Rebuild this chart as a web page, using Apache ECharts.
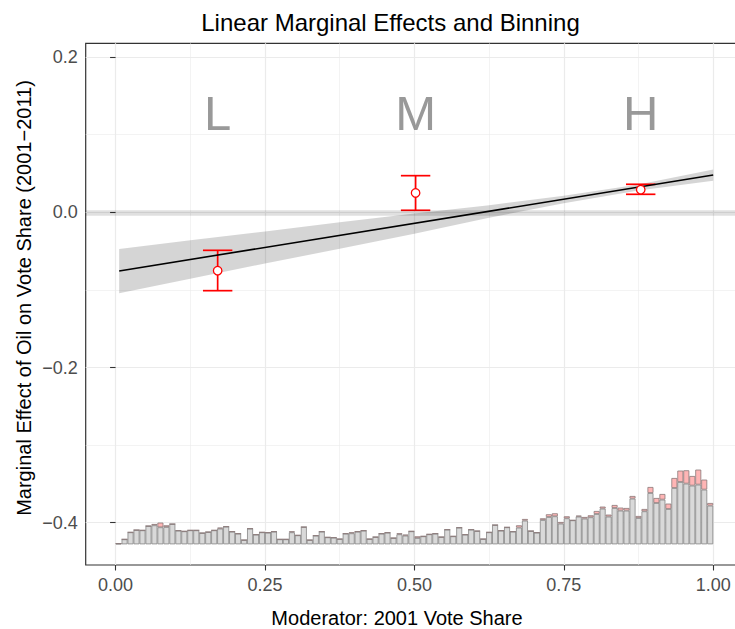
<!DOCTYPE html>
<html>
<head>
<meta charset="utf-8">
<title>Linear Marginal Effects and Binning</title>
<script src="https://cdn.jsdelivr.net/npm/echarts/dist/echarts.min.js"></script>
<style>
  html, body { margin: 0; padding: 0; background: #fff; }
  #chart { width: 735px; height: 629px; }
</style>
</head>
<body>
<div id="chart"></div>
<script>
// values

// linear marginal effect (fitted line)
var lineX = [0.006, 1.0];
var lineY = [-0.0756, 0.0480];

// 95% band around the linear estimate
var bandX = [0.006, 0.125, 0.25, 0.375, 0.5, 0.625, 0.75, 0.875, 1.0];
var bandLower = [-0.1042, -0.0856, -0.0660, -0.0470, -0.0275, -0.0071, 0.0118, 0.0282, 0.0405];
var bandUpper = [-0.0472, -0.0360, -0.0248, -0.0128, -0.0015, 0.0091, 0.0212, 0.0358, 0.0552];

// binning estimates
var binNames = ['L', 'M', 'H'];
var binX = [0.1708, 0.502, 0.8787];
var binEst = [-0.0752, 0.0249, 0.0291];
var binLower = [-0.101, 0.0026, 0.0232];
var binUpper = [-0.049, 0.0472, 0.0361];
var binLabelY = 0.128;

// distribution of the moderator, 100 bins on [0,1]
var histControl = [
  0.7, 5, 12, 14.3, 14, 18.3, 19, 17, 17.3, 20.3,
  13.7, 13, 14, 14, 11.3, 12.3, 14, 15.7, 17.7, 12.7,
  10.7, 4.3, 15.7, 9.7, 12, 11.7, 12.7, 5, 5, 12,
  9, 17.3, 4.3, 8.7, 12.7, 7, 6.7, 5.3, 10.7, 11,
  12.7, 13.7, 5.3, 7.3, 10.7, 11.7, 6.3, 10, 8.7, 13,
  6.3, 8, 10, 10.7, 7.3, 14.7, 8, 16.7, 9.7, 14.7,
  13.3, 5.3, 12, 19.3, 13.7, 17, 12.7, 16.7, 23.7, 13.3,
  11.7, 24.3, 27.3, 28, 20.7, 26, 24, 27.7, 25.7, 27,
  30.3, 35.7, 27.7, 36.3, 33.7, 33.7, 45.7, 26.3, 33, 51.3,
  41.3, 44.7, 35.3, 56.3, 62.3, 60.7, 58.7, 59.7, 54.7, 38.7
];
var histTreated = [
  0, 0, 0, 0, 0, 0, 1.3, 4.7, 1.7, 0,
  0, 0, 0, 0, 0, 0, 0, 1, 0, 0,
  0, 0, 0, 0, 0, 0, 0, 0, 0, 1,
  0, 0, 0, 0, 0, 0, 0, 0, 0, 1,
  0, 0, 0, 0, 0, 0, 0, 1, 1, 0,
  1.7, 0, 0, 0, 0, 0, 0, 0, 0, 0,
  0, 0, 0, 0, 0, 0, 0, 2.3, 1.6, 0,
  0, 1.7, 2.7, 3, 1.6, 2, 0, 1, 1.6, 2,
  3, 2, 2, 3, 3, 2.6, 2.6, 2, 2.3, 6,
  5, 5.6, 5.4, 10, 11.4, 13.3, 9.6, 15, 10, 2.6
];

var xTickLabels = ['0.00', '0.25', '0.50', '0.75', '1.00'];
var yTickLabels = ['\u22120.4', '\u22120.2', '0.0', '0.2'];

var font = 'Liberation Sans, Arial, Helvetica, sans-serif';

var lineData = [];
for (var i = 0; i < lineX.length; i++) {
  lineData.push([lineX[i], lineY[i]]);
}
var bandData = [];
for (var i = 0; i < bandX.length; i++) {
  bandData.push([bandX[i], bandLower[i], bandUpper[i]]);
}
var errData = [];
var pointData = [];
var letterData = [];
for (var i = 0; i < binX.length; i++) {
  errData.push([binX[i], binLower[i], binUpper[i]]);
  pointData.push([binX[i], binEst[i]]);
  letterData.push({ name: binNames[i], value: [binX[i], binLabelY] });
}
var binCats = [];
for (var i = 0; i < histControl.length; i++) {
  binCats.push(String(i));
}

var chart = echarts.init(document.getElementById('chart'), null, { renderer: 'svg' });

var option = {
  animation: false,
  backgroundColor: '#ffffff',
  title: {
    text: 'Linear Marginal Effects and Binning',
    left: 390.5,
    top: 10,
    padding: 0,
    textAlign: 'center',
    textStyle: { fontFamily: font, fontSize: 24, fontWeight: 'normal', color: '#000' }
  },
  graphic: [
    {
      type: 'text', x: 397, y: 618,
      style: { text: 'Moderator: 2001 Vote Share', font: '20px ' + font, fill: '#000',
               textAlign: 'center', textVerticalAlign: 'middle' }
    },
    {
      type: 'text', x: 24, y: 298, rotation: Math.PI / 2,
      style: { text: 'Marginal Effect of Oil on Vote Share (2001\u22122011)', font: '20px ' + font, fill: '#000',
               textAlign: 'center', textVerticalAlign: 'middle' }
    }
  ],
  grid: [
    // panel border
    { left: 85.7, width: 657.4, top: 43.3, bottom: 64, outerBoundsMode: 'none', containLabel: false,
      show: true, borderColor: '#333333', borderWidth: 1.2, backgroundColor: 'transparent' },
    // x breaks: 0..1
    { left: 115.6, width: 597.6, top: 43.3, bottom: 64, outerBoundsMode: 'none', containLabel: false },
    // y breaks: -0.4..0.2, also holds the estimates
    { left: 85.7, width: 657.4, top: 57.1, bottom: 106.3, outerBoundsMode: 'none', containLabel: false },
    // histogram
    { left: 115.6, width: 597.6, top: 444.3, bottom: 84.7, outerBoundsMode: 'none', containLabel: false }
  ],
  xAxis: [
    { gridIndex: 0, type: 'value', min: -0.05, max: 1.05, show: false },
    {
      gridIndex: 1, type: 'value', min: 0, max: 1, interval: 0.25,
      axisLine: { show: false },
      axisTick: { show: true, length: 5.5, lineStyle: { color: '#333333', width: 1.1 } },
      axisLabel: {
        margin: 11, fontFamily: font, fontSize: 18, color: '#4d4d4d',
        formatter: function (v) { return xTickLabels[Math.round(v / 0.25)]; }
      },
      splitLine: { show: true, lineStyle: { color: '#ebebeb', width: 1.2 } },
      minorTick: { show: false, splitNumber: 2 },
      minorSplitLine: { show: true, lineStyle: { color: '#ebebeb', width: 0.6 } }
    },
    { gridIndex: 2, type: 'value', min: -0.05, max: 1.05, show: false },
    { gridIndex: 3, type: 'category', data: binCats, show: false, boundaryGap: true }
  ],
  yAxis: [
    { gridIndex: 0, type: 'value', min: 0, max: 1, show: false },
    { gridIndex: 1, type: 'value', min: 0, max: 1, show: false },
    {
      gridIndex: 2, type: 'value', min: -0.4, max: 0.2, interval: 0.2,
      axisLine: { show: false },
      axisTick: { show: true, length: 5.5, lineStyle: { color: '#333333', width: 1.1 } },
      axisLabel: {
        margin: 8, fontFamily: font, fontSize: 18, color: '#4d4d4d',
        formatter: function (v) { return yTickLabels[Math.round((v + 0.4) / 0.2)]; }
      },
      splitLine: { show: true, lineStyle: { color: '#ebebeb', width: 1.2 } },
      minorTick: { show: false, splitNumber: 2 },
      minorSplitLine: { show: true, lineStyle: { color: '#ebebeb', width: 0.6 } }
    },
    { gridIndex: 3, type: 'value', min: 0, max: 100, show: false }
  ],
  series: [
    {
      name: 'hist control', type: 'bar', xAxisIndex: 3, yAxisIndex: 3, stack: 'hist',
      barCategoryGap: '0%', data: histControl, silent: true,
      itemStyle: { color: '#d9d9d9', borderColor: '#858585', borderWidth: 0.8 }
    },
    {
      name: 'hist treated', type: 'bar', xAxisIndex: 3, yAxisIndex: 3, stack: 'hist',
      barCategoryGap: '0%', data: histTreated, silent: true,
      itemStyle: { color: '#ffb5b5', borderColor: '#8a7a7a', borderWidth: 0.8 }
    },
    {
      // zero reference line
      name: 'zero', type: 'line', xAxisIndex: 2, yAxisIndex: 2, data: [], silent: true,
      markLine: {
        silent: true, symbol: 'none', label: { show: false },
        lineStyle: { color: 'rgba(0,0,0,0.12)', width: 5.7, type: 'solid' },
        data: [{ yAxis: 0 }]
      }
    },
    {
      // confidence band drawn as one polygon through the band points
      name: 'band', type: 'custom', xAxisIndex: 2, yAxisIndex: 2, data: bandData, silent: true,
      renderItem: function (params, api) {
        if (params.dataIndex !== 0) {
          return;
        }
        var pts = [];
        for (var k = 0; k < bandData.length; k++) {
          pts.push(api.coord([bandData[k][0], bandData[k][2]]));
        }
        for (var k = bandData.length - 1; k >= 0; k--) {
          pts.push(api.coord([bandData[k][0], bandData[k][1]]));
        }
        return { type: 'polygon', shape: { points: pts }, style: { fill: 'rgba(0,0,0,0.165)' } };
      }
    },
    {
      name: 'linear', type: 'line', xAxisIndex: 2, yAxisIndex: 2,
      data: lineData, symbol: 'none', silent: true,
      lineStyle: { color: '#000', width: 1.6 }
    },
    {
      name: 'bin ci', type: 'custom', xAxisIndex: 2, yAxisIndex: 2, data: errData,
      renderItem: function (params, api) {
        var lo = api.coord([api.value(0), api.value(1)]);
        var hi = api.coord([api.value(0), api.value(2)]);
        var cap = 14.7;
        var st = { stroke: '#ff0000', lineWidth: 1.7 };
        return {
          type: 'group',
          children: [
            { type: 'line', shape: { x1: lo[0], y1: lo[1], x2: hi[0], y2: hi[1] }, style: st },
            { type: 'line', shape: { x1: lo[0] - cap, y1: lo[1], x2: lo[0] + cap, y2: lo[1] }, style: st },
            { type: 'line', shape: { x1: hi[0] - cap, y1: hi[1], x2: hi[0] + cap, y2: hi[1] }, style: st }
          ]
        };
      }
    },
    {
      name: 'bin est', type: 'scatter', xAxisIndex: 2, yAxisIndex: 2, data: pointData,
      symbol: 'circle', symbolSize: 8.5, z: 5,
      itemStyle: { color: '#ffffff', borderColor: '#ff0000', borderWidth: 1.3, opacity: 1 }
    },
    {
      name: 'bin labels', type: 'scatter', xAxisIndex: 2, yAxisIndex: 2, data: letterData,
      symbolSize: 0, silent: true,
      label: {
        show: true, position: 'inside', formatter: '{b}',
        fontFamily: font, fontSize: 49, color: '#808080'
      }
    }
  ]
};

chart.setOption(option);
</script>
</body>
</html>
